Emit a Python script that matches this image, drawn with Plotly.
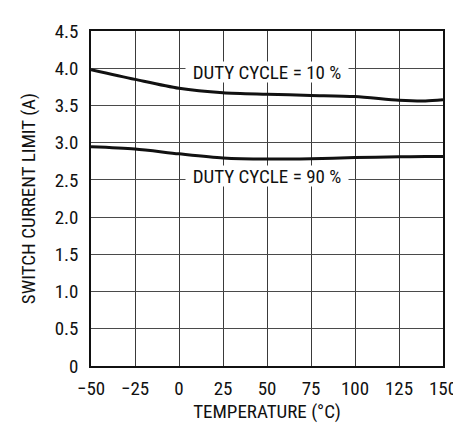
import plotly.graph_objects as go

temps = [-50, -25, 0, 25, 50, 75, 100, 125, 140, 150]
duty10 = [3.98, 3.85, 3.73, 3.67, 3.65, 3.635, 3.62, 3.57, 3.56, 3.575]
duty90 = [2.945, 2.915, 2.85, 2.795, 2.78, 2.785, 2.80, 2.81, 2.815, 2.815]

x_ticks = [-50, -25, 0, 25, 50, 75, 100, 125, 150]
x_labels = ["\u221250", "\u221225", "0", "25", "50", "75", "100", "125", "150"]
y_ticks = [0, 0.5, 1.0, 1.5, 2.0, 2.5, 3.0, 3.5, 4.0, 4.5]
y_labels = ["0", "0.5", "1.0", "1.5", "2.0", "2.5", "3.0", "3.5", "4.0", "4.5"]

labels = ["DUTY CYCLE = 10 %", "DUTY CYCLE = 90 %"]
label_pos = [(50, 3.95), (50, 2.55)]

FONT = "Roboto Condensed, Liberation Sans Narrow, sans-serif"
FS = 19

fig = go.Figure()
for ys in (duty10, duty90):
    fig.add_trace(go.Scatter(x=temps, y=ys, mode="lines",
                             line=dict(color="#111111", width=3, shape="spline", smoothing=0.8),
                             showlegend=False, hoverinfo="skip"))

for txt, (lx, ly) in zip(labels, label_pos):
    fig.add_annotation(x=lx, y=ly, text=txt, showarrow=False,
                       bgcolor="white", borderpad=0, width=162, height=20,
                       font=dict(family=FONT, size=FS, color="#111111"))

fig.update_layout(
    width=461, height=423,
    margin=dict(l=83, r=26, t=13, b=59),
    paper_bgcolor="white", plot_bgcolor="white",
    font=dict(family=FONT, size=FS, color="#111111"),
)
fig.update_xaxes(range=[-50, 150], tickvals=x_ticks, ticktext=x_labels,
                 showgrid=True, gridcolor="#3a3a3a", gridwidth=1.2,
                 showline=True, linecolor="#111111", linewidth=1.5, mirror=True,
                 zeroline=False, ticks="", ticklabelstandoff=4,
                 title=dict(text="TEMPERATURE (\u00b0C)", standoff=6,
                            font=dict(family=FONT, size=FS)))
fig.update_yaxes(range=[0, 4.5], tickvals=y_ticks, ticktext=y_labels,
                 showgrid=True, gridcolor="#4a4a4a", gridwidth=1.2,
                 showline=True, linecolor="#111111", linewidth=1.5, mirror=True,
                 zeroline=False, ticks="", ticklabelstandoff=7,
                 title=dict(text="SWITCH CURRENT LIMIT (A)", standoff=14,
                            font=dict(family=FONT, size=FS)))

fig.write_html("out.html")
